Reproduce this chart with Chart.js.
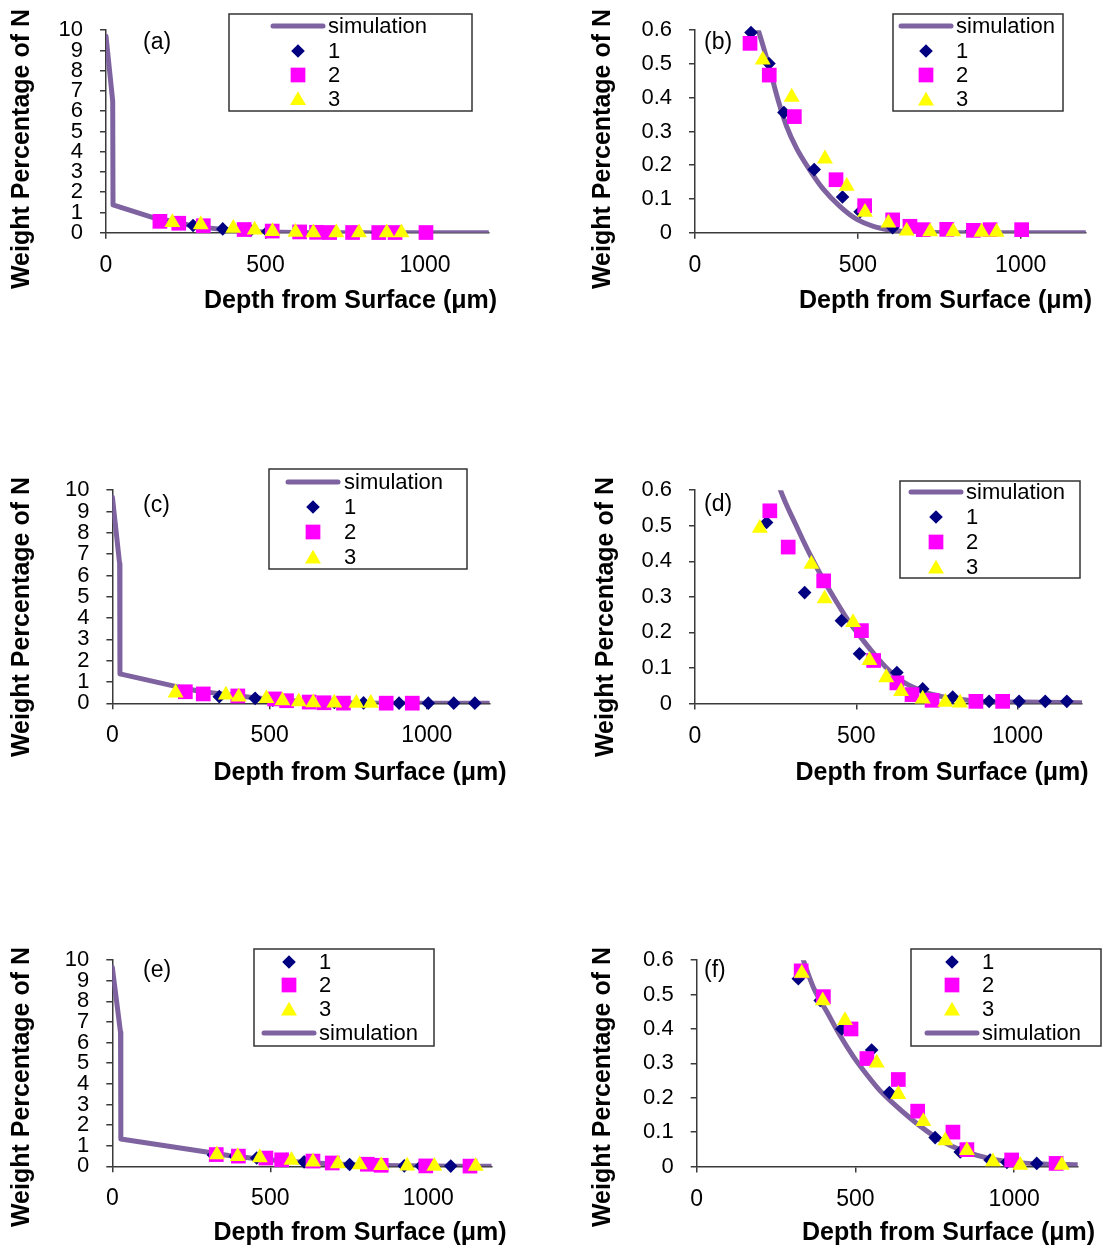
<!DOCTYPE html>
<html lang="en">
<head>
<meta charset="UTF-8">
<title>Weight Percentage of N vs Depth from Surface</title>
<script src="https://cdn.jsdelivr.net/npm/chart.js"></script>
<style>
  body { margin: 0; background: #fff; }
  #page { position: relative; width: 1104px; height: 1249px; overflow: hidden; }
  #page canvas { position: absolute; }
</style>
</head>
<body>
<div id="page"></div>
<script>
// Values: depth in µm, weight percentage of N.
// Panels (a)/(b) share one data set, (c)/(d) another, (e)/(f) a third.

// --- (a) / (b) ---
const simDepthAB = [0, 21, 22, 160, 194, 228, 256, 281, 312, 353, 394, 445, 496, 548, 600, 650, 700, 800, 1200];
const simWtAB    = [9.7, 6.5, 1.37, 0.68, 0.6, 0.49, 0.39, 0.316, 0.25, 0.185, 0.129, 0.078, 0.040, 0.019, 0.008, 0.003, 0.001, 0, 0];
const s1DepthAB = [172, 227, 273, 366, 453, 507, 607, 850];
const s1WtAB    = [0.593, 0.501, 0.356, 0.187, 0.106, 0.062, 0.015, 0.006];
const s2DepthAB = [169, 228, 305, 433, 521, 607, 660, 701, 773, 855, 906, 1003];
const s2WtAB    = [0.561, 0.467, 0.344, 0.157, 0.080, 0.038, 0.019, 0.009, 0.010, 0.007, 0.009, 0.009];
const s3DepthAB = [208, 297, 399, 466, 522, 594, 650, 722, 793, 880, 926];
const s3WtAB    = [0.512, 0.402, 0.219, 0.138, 0.061, 0.029, 0.005, 0.003, 0.003, 0.002, 0.002];

// --- (c) / (d) ---
const simDepthCD = [0, 23, 24, 204, 265, 314, 356, 397, 438, 479, 521, 562, 603, 644, 686, 727, 789, 861, 1015, 1200];
const simWtCD    = [9.67, 6.55, 1.38, 0.78, 0.6, 0.5, 0.42, 0.35, 0.287, 0.228, 0.178, 0.132, 0.092, 0.062, 0.042, 0.028, 0.016, 0.008, 0.004, 0.002];
const s1DepthCD = [222, 340, 454, 510, 626, 706, 799, 912, 1005, 1086, 1153];
const s1WtCD    = [0.509, 0.312, 0.233, 0.140, 0.087, 0.041, 0.018, 0.006, 0.006, 0.006, 0.006];
const s2DepthCD = [232, 289, 399, 516, 554, 626, 673, 735, 871, 954];
const s2WtCD    = [0.542, 0.440, 0.345, 0.205, 0.121, 0.058, 0.025, 0.009, 0.006, 0.006];
const s3DepthCD = [201, 361, 402, 490, 541, 593, 639, 706, 776, 822];
const s3WtCD    = [0.493, 0.392, 0.295, 0.228, 0.121, 0.073, 0.034, 0.013, 0.004, 0.002];

// --- (e) / (f) ---
const simDepthEF = [0, 26, 27, 314, 336, 368, 410, 452, 494, 536, 578, 620, 672, 725, 788, 851, 924, 1008, 1092, 1200];
const simWtEF    = [9.66, 6.5, 1.32, 0.66, 0.6, 0.52, 0.45, 0.38, 0.319, 0.267, 0.22, 0.183, 0.141, 0.103, 0.066, 0.042, 0.023, 0.012, 0.007, 0.005];
const s1DepthEF = [320, 389, 457, 551, 607, 751, 830, 924, 977, 1071];
const s1WtEF    = [0.546, 0.483, 0.400, 0.339, 0.215, 0.084, 0.042, 0.019, 0.012, 0.009];
const s2DepthEF = [329, 399, 486, 536, 635, 696, 807, 851, 992, 1132];
const s2WtEF    = [0.569, 0.494, 0.400, 0.314, 0.253, 0.161, 0.100, 0.049, 0.019, 0.009];
const s3DepthEF = [331, 397, 467, 567, 635, 714, 783, 851, 933, 1019, 1150];
const s3WtEF    = [0.562, 0.482, 0.425, 0.301, 0.210, 0.131, 0.075, 0.047, 0.014, 0.004, 0.004];

// ticks and labels
const depthTicks = [0, 500, 1000];
const wideTicks = [0, 1, 2, 3, 4, 5, 6, 7, 8, 9, 10];
const narrowTicks = [0, 0.1, 0.2, 0.3, 0.4, 0.5, 0.6];
const seriesLabels = ['simulation', '1', '2', '3'];
const yTitle = 'Weight Percentage of N';
const xTitle = 'Depth from Surface (\u03bcm)';

const FONT = '"Liberation Sans", Arial, Helvetica, sans-serif';
const AXIS = '#3a3a3a';
const seriesStyle = [
    { color: '#7F63A1', width: 5 },
    { color: '#000080', point: 'rectRot', radius: 6.8 },
    { color: '#FF00FF', point: 'rect', radius: 10.4 },
    { color: '#FFFF00', point: 'triangle', radius: 9.2 }
];

const groupAB = { sim: [simDepthAB, simWtAB], s: [[s1DepthAB, s1WtAB], [s2DepthAB, s2WtAB], [s3DepthAB, s3WtAB]] };
const groupCD = { sim: [simDepthCD, simWtCD], s: [[s1DepthCD, s1WtCD], [s2DepthCD, s2WtCD], [s3DepthCD, s3WtCD]] };
const groupEF = { sim: [simDepthEF, simWtEF], s: [[s1DepthEF, s1WtEF], [s2DepthEF, s2WtEF], [s3DepthEF, s3WtEF]] };

const legendTop = [0, 1, 2, 3];
const legendBottom = [1, 2, 3, 0];

// page layout, in page pixels
const panels = [
    { tag: '(a)', cx: 0, cy: 0, cw: 552, ch: 320, plot: [106, 19, 488.8, 232.7], yMax: 10, yTicks: wideTicks, group: groupAB,
      tagPos: [143, 42.5], yTitlePos: [22, 149], xTitlePos: [350.5, 301],
      legend: { box: [229, 14, 472, 111], mx: 298, textX: 328, rows: [26, 51, 75, 98.5], order: legendTop } },
    { tag: '(b)', cx: 552, cy: 0, cw: 552, ch: 320, plot: [695, 18.7, 1085.8, 232.7], yMax: 0.6, yTicks: narrowTicks, group: groupAB,
      tagPos: [704, 42.5], yTitlePos: [603, 149], xTitlePos: [945.5, 301],
      legend: { box: [893, 14, 1063, 111], mx: 926, textX: 956, rows: [26, 51, 75, 99], order: legendTop } },
    { tag: '(c)', cx: 0, cy: 460, cw: 552, ch: 330, plot: [112.4, 485, 489.6, 703.3], yMax: 10, yTicks: wideTicks, group: groupCD,
      tagPos: [143, 506], yTitlePos: [22, 617], xTitlePos: [360, 773],
      legend: { box: [269, 469, 467, 569], mx: 313, textX: 344, rows: [482, 507, 532, 557], order: legendTop } },
    { tag: '(d)', cx: 552, cy: 460, cw: 552, ch: 330, plot: [695, 484, 1082, 703.5], yMax: 0.6, yTicks: narrowTicks, group: groupCD,
      tagPos: [704, 505], yTitlePos: [606, 617], xTitlePos: [942, 773],
      legend: { box: [900, 481, 1080, 578], mx: 936, textX: 966, rows: [492, 517, 542, 567], order: legendTop } },
    { tag: '(e)', cx: 0, cy: 930, cw: 552, ch: 319, plot: [112.3, 955, 491.5, 1166.3], yMax: 10, yTicks: wideTicks, group: groupEF,
      tagPos: [143, 971], yTitlePos: [22, 1087], xTitlePos: [360, 1233],
      legend: { box: [254, 949, 434, 1046], mx: 289, textX: 319, rows: [962, 985, 1009, 1033], order: legendBottom } },
    { tag: '(f)', cx: 552, cy: 930, cw: 552, ch: 319, plot: [696.7, 953.5, 1077.7, 1166.5], yMax: 0.6, yTicks: narrowTicks, group: groupEF,
      tagPos: [704, 971], yTitlePos: [603, 1087], xTitlePos: [948.5, 1233],
      legend: { box: [911, 949, 1101, 1046], mx: 952, textX: 982, rows: [962, 985, 1009, 1033], order: legendBottom } }
];

function pts(xs, ys) {
    return xs.map((x, i) => ({ x: x, y: ys[i] }));
}

// tag, axis titles and the boxed legend
function decor(p) {
    return {
        id: 'decor',
        afterDraw(chart) {
            const ctx = chart.ctx;
            const X = v => v - p.cx, Y = v => v - p.cy;
            ctx.save();
            ctx.fillStyle = '#000';
            ctx.textBaseline = 'middle';

            ctx.font = '23px ' + FONT;
            ctx.textAlign = 'left';
            ctx.fillText(p.tag, X(p.tagPos[0]), Y(p.tagPos[1]));

            ctx.font = 'bold 25px ' + FONT;
            ctx.textAlign = 'center';
            ctx.fillText(xTitle, X(p.xTitlePos[0]), Y(p.xTitlePos[1]));
            ctx.save();
            ctx.translate(X(p.yTitlePos[0]), Y(p.yTitlePos[1]));
            ctx.rotate(-Math.PI / 2);
            ctx.fillText(yTitle, 0, 0);
            ctx.restore();

            const lg = p.legend;
            const [x1, y1, x2, y2] = lg.box;
            ctx.fillStyle = '#fff';
            ctx.fillRect(X(x1), Y(y1), x2 - x1, y2 - y1);
            ctx.strokeStyle = '#333';
            ctx.lineWidth = 1.5;
            ctx.strokeRect(X(x1), Y(y1), x2 - x1, y2 - y1);

            ctx.font = '22px ' + FONT;
            ctx.textAlign = 'left';
            lg.order.forEach((k, i) => {
                const st = seriesStyle[k];
                const y = Y(lg.rows[i]);
                const mx = X(lg.mx);
                if (k === 0) {
                    ctx.strokeStyle = st.color;
                    ctx.lineWidth = st.width;
                    ctx.lineCap = 'round';
                    ctx.beginPath();
                    ctx.moveTo(mx - 25, y);
                    ctx.lineTo(mx + 25, y);
                    ctx.stroke();
                } else {
                    ctx.fillStyle = st.color;
                    const dy = st.point === 'triangle' ? 2 : 0;
                    Chart.helpers.drawPoint(ctx, { pointStyle: st.point, radius: st.radius, rotation: 0, borderWidth: 0 }, mx, y + dy);
                }
                ctx.fillStyle = '#000';
                ctx.fillText(seriesLabels[k], X(lg.textX), y + 1);
            });
            ctx.restore();
        }
    };
}

function buildPanel(p) {
    const canvas = document.createElement('canvas');
    canvas.width = p.cw;
    canvas.height = p.ch;
    canvas.style.left = p.cx + 'px';
    canvas.style.top = p.cy + 'px';
    canvas.style.width = p.cw + 'px';
    canvas.style.height = p.ch + 'px';
    document.getElementById('page').appendChild(canvas);

    const [L, T, R, B] = p.plot;
    const zoomed = p.yMax < 1;
    const g = p.group;

    const datasets = [{
        label: seriesLabels[0],
        data: pts(g.sim[0], g.sim[1]),
        showLine: true,
        borderColor: seriesStyle[0].color,
        borderWidth: seriesStyle[0].width,
        borderCapStyle: 'round',
        borderJoinStyle: 'round',
        pointRadius: 0,
        tension: 0,
        cubicInterpolationMode: zoomed ? 'monotone' : 'default',
        capBezierPoints: false,
        clip: 0,
        order: 4
    }];
    g.s.forEach((s, i) => {
        const st = seriesStyle[i + 1];
        datasets.push({
            label: seriesLabels[i + 1],
            data: pts(s[0], s[1]),
            pointStyle: st.point,
            pointRadius: st.radius,
            pointHoverRadius: st.radius,
            pointBackgroundColor: st.color,
            pointBorderColor: st.color,
            pointBorderWidth: 0,
            clip: false,
            order: 3 - i
        });
    });

    new Chart(canvas, {
        type: 'scatter',
        data: { datasets: datasets },
        options: {
            responsive: false,
            animation: false,
            events: [],
            layout: { padding: { left: 0, top: T - p.cy, right: p.cx + p.cw - R, bottom: 0 } },
            plugins: { legend: { display: false }, tooltip: { enabled: false } },
            scales: {
                x: {
                    type: 'linear',
                    min: 0,
                    max: 1200,
                    afterBuildTicks: s => { s.ticks = depthTicks.map(v => ({ value: v })); },
                    afterFit: s => { s.height = p.cy + p.ch - B; },
                    grid: { drawOnChartArea: false, drawTicks: true, tickLength: 6, color: AXIS, lineWidth: 1.5 },
                    border: { display: true, color: AXIS, width: 1.5 },
                    ticks: { autoSkip: false, maxRotation: 0, padding: 13, color: '#000', font: { family: FONT, size: 23 }, callback: v => String(v) }
                },
                y: {
                    type: 'linear',
                    min: 0,
                    max: p.yMax,
                    afterBuildTicks: s => { s.ticks = p.yTicks.map(v => ({ value: v })); },
                    afterFit: s => { s.width = L - p.cx; },
                    grid: { drawOnChartArea: false, drawTicks: true, tickLength: 6, color: AXIS, lineWidth: 1.5 },
                    border: { display: true, color: AXIS, width: 1.5 },
                    ticks: { autoSkip: false, padding: 17, color: '#000', font: { family: FONT, size: 22 }, callback: v => String(v) }
                }
            }
        },
        plugins: [decor(p)]
    });
}

panels.forEach(buildPanel);
</script>
</body>
</html>
